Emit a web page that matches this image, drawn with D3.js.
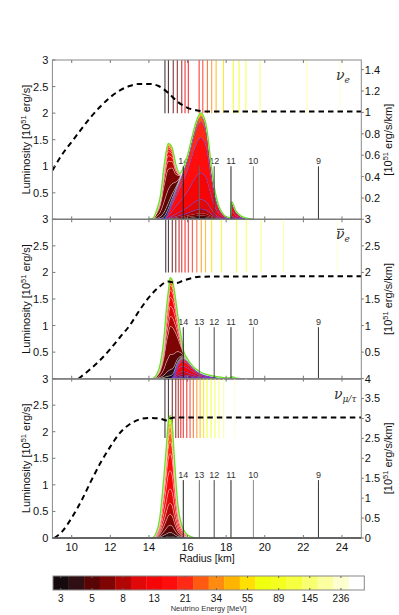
<!DOCTYPE html>
<html>
<head>
<meta charset="utf-8">
<script src="https://cdn.jsdelivr.net/npm/d3@7"></script>
<style>
body { margin: 0; background: #fff; }
text { font-family: "Liberation Sans", Arial, sans-serif; fill: #111; }
</style>
</head>
<body>
<svg id="chart" width="399" height="615"></svg>
<script>
// ---- colour map, one colour per energy bin ----
const binColors = ["#150b0f", "#2f0f14", "#5a0505", "#7f0505", "#b20505", "#e00808", "#f50505",
  "#ff0d0d", "#ff2a15", "#ff5a10", "#ff8c10", "#ffb400", "#ffe000", "#f0ff10", "#f4ff20",
  "#f6ff40", "#f8ff70", "#fbffa0", "#fdffd0", "#ffffff"];
const energyTicks = ["3", "5", "8", "13", "21", "34", "55", "89", "145", "236"];

// ---- numbered vertical markers (same radii in every panel) ----
const markerR = [15.78, 16.61, 17.38, 18.25, 19.41, 22.78];
const markerLabels = ["14", "13", "12", "11", "10", "9"];
const markerColors = ["#222", "#666", "#444", "#222", "#888", "#333"];
const markerTop = [1.0, 0.97, 1.09];

// ---- axis ticks ----
const xTicks = [10, 12, 14, 16, 18, 20, 22, 24];
const leftTicks = [[0.5, 1, 1.5, 2, 2.5, 3], [0.5, 1, 1.5, 2, 2.5, 3], [0, 0.5, 1, 1.5, 2, 2.5, 3]];
const rightTicks = [[0.2, 0.4, 0.6, 0.8, 1, 1.2, 1.4], [0.5, 1, 1.5, 2, 2.5, 3], [0, 0.5, 1, 1.5, 2, 2.5, 3, 3.5, 4]];
const rightMax = [1.49, 3, 4];

// ---- panel 1: nu_e ----
const dash1R = [9.0, 9.5, 10.0, 10.5, 11.0, 11.5, 12.0, 12.5, 13.0, 13.5, 14.0, 14.5, 15.0, 15.5, 16.0, 16.5, 17.0, 25.0];
const dash1L = [0.92, 1.22, 1.46, 1.70, 1.93, 2.13, 2.30, 2.43, 2.51, 2.55, 2.55, 2.51, 2.38, 2.21, 2.10, 2.05, 2.03, 2.03];
const grid1 = [14.0, 14.2, 14.4, 14.6, 14.8, 15.0, 15.2, 15.4, 15.6, 15.8, 16.0, 16.2, 16.4, 16.6, 16.7, 16.8, 17.0, 17.2, 17.4, 17.6, 17.8, 18.0, 18.22, 18.28, 18.5, 18.7, 19.0, 19.4];
const inner1 = [0, 0.01, 0.085, 0.225, 0.51, 0.635, 0.495, 0.235, 0.055, 0.01, 0, 0, 0, 0, 0, 0, 0, 0, 0, 0, 0, 0, 0, 0, 0, 0, 0, 0];
const outer1 = [0, 0, 0, 0, 0.01, 0.075, 0.175, 0.275, 0.375, 0.48, 0.595, 0.745, 0.885, 0.98, 0.995, 0.975, 0.845, 0.545, 0.285, 0.135, 0.06, 0.025, 0.015, 0.165, 0.08, 0.04, 0.015, 0];
const innerShare1 = [0.04, 0.08, 0.2, 0.3, 0.12, 0.08, 0.06, 0.04, 0.03, 0.02, 0.012, 0.008, 0.005, 0.003, 0.002, 0.001, 0.001, 0.0005, 0.0005, 0.0003];
const outerShare1 = [0.01, 0.012, 0.015, 0.02, 0.04, 0.09, 0.25, 0.33, 0.15, 0.045, 0.018, 0.01, 0.005, 0.003, 0.001, 0.0005, 0.0003, 0.0002, 0.0001, 0.0001];
const sphere1 = [14.83, 15.01, 15.26, 15.47, 15.70, 15.87, 16.04, 16.60, 16.79, 17.03, 17.25, 17.48, 17.86, 18.37, 18.67, 19.02, 19.76, 22.18, 23.9, 24.6];

// ---- panel 2: anti nu_e ----
const dash2R = [10.35, 11.0, 11.5, 12.0, 12.5, 13.0, 13.5, 14.0, 14.5, 15.0, 15.4, 15.8, 16.2, 16.6, 25.0];
const dash2L = [0, 0.19, 0.36, 0.56, 0.78, 1.0, 1.28, 1.53, 1.72, 1.83, 1.80, 1.85, 1.89, 1.92, 1.93];
const grid2 = [14.2, 14.4, 14.6, 14.8, 14.9, 15.0, 15.1, 15.2, 15.3, 15.4, 15.5, 15.6, 15.7, 15.8, 16.0, 16.2, 16.4, 16.6, 16.8, 17.0, 17.2, 17.5, 17.8, 18.1, 18.25, 18.3, 18.5, 18.8];
const inner2 = [0, 0.08, 0.3, 0.85, 1.3, 1.62, 1.9, 1.84, 1.62, 1.25, 0.88, 0.58, 0.32, 0.13, 0.03, 0.02, 0.02, 0.02, 0.015, 0.015, 0.01, 0.005, 0.005, 0.003, 0.003, 0.003, 0.002, 0];
const outer2 = [0, 0, 0, 0, 0, 0, 0, 0.02, 0.08, 0.2, 0.3, 0.36, 0.4, 0.39, 0.34, 0.25, 0.17, 0.12, 0.085, 0.065, 0.05, 0.035, 0.02, 0.01, 0.01, 0.035, 0.01, 0];
const innerShare2 = [0.03, 0.06, 0.15, 0.28, 0.1, 0.1, 0.09, 0.07, 0.05, 0.03, 0.02, 0.01, 0.006, 0.004, 0.002, 0.001, 0.001, 0.0008, 0.0005, 0.0003];
const outerShare2 = [0.01, 0.015, 0.03, 0.05, 0.08, 0.15, 0.25, 0.22, 0.1, 0.05, 0.025, 0.012, 0.006, 0.003, 0.001, 0.0005, 0.0003, 0.0002, 0.0001, 0.0001];
const sphere2 = [14.87, 15.01, 15.21, 15.39, 15.56, 15.70, 15.87, 16.04, 16.25, 16.48, 16.71, 16.93, 17.25, 17.76, 18.53, 19.04, 19.81, 20.97, 23.76, 24.8];

// ---- panel 3: nu_mu/tau ----
const dash3R = [9.1, 9.5, 10.0, 10.5, 11.0, 11.5, 12.0, 12.5, 13.0, 13.5, 14.0, 14.5, 14.9, 15.0, 15.1, 15.5, 25.0];
const dash3L = [0, 0.12, 0.38, 0.70, 1.07, 1.42, 1.72, 1.98, 2.14, 2.23, 2.26, 2.25, 2.21, 2.20, 2.25, 2.27, 2.27];
const grid3 = [14.2, 14.4, 14.5, 14.6, 14.7, 14.8, 14.9, 15.0, 15.1, 15.2, 15.3, 15.4, 15.5, 15.6, 15.7, 15.8, 16.0, 16.2, 16.4];
const inner3 = [0, 0.16, 0.33, 0.64, 1.13, 1.67, 2.27, 2.87, 3.07, 2.87, 2.13, 1.4, 0.83, 0.51, 0.32, 0.2, 0.08, 0.027, 0];
const innerShare3 = [0.015, 0.03, 0.06, 0.09, 0.09, 0.12, 0.15, 0.14, 0.1, 0.075, 0.05, 0.035, 0.022, 0.014, 0.008, 0.005, 0.003, 0.002, 0.001, 0.0005];
const sphere3 = [14.83, 15.01, 15.21, 15.39, 15.52, 15.65, 15.78, 15.96, 16.13, 16.30, 16.48, 16.65, 16.83, 17.01, 17.22, 17.42, 17.63, 17.87, 18.44, 19.03];
const sphereBottom = [2.0, 2.0, 1.88];

const flavours = [{ sub: "e", bar: false, x: 336 }, { sub: "e", bar: true, x: 336 }, { sub: "\u03bc/\u03c4", bar: false, x: 334 }];

// ---- layout ----
const plotL = 52.4, plotR = 361.3;
const panelTop = [60, 219.3, 378.6], panelH = 159.4;
const BLUE = "#3a3cff", EDGE_WHITE = "#ffffff", GREEN = "#6ee02c";

const svg = d3.select("#chart");
const x = d3.scaleLinear().domain([9, 25]).range([plotL, plotR]);

const panels = [
  { dashR: dash1R, dashL: dash1L, grid: grid1, sphere: sphere1,
    groups: [{ v: outer1, share: outerShare1, edge: BLUE }, { v: inner1, share: innerShare1, edge: EDGE_WHITE }] },
  { dashR: dash2R, dashL: dash2L, grid: grid2, sphere: sphere2,
    groups: [{ v: outer2, share: outerShare2, edge: BLUE }, { v: inner2, share: innerShare2, edge: EDGE_WHITE }] },
  { dashR: dash3R, dashL: dash3L, grid: grid3, sphere: sphere3,
    groups: [{ v: inner3, share: innerShare3, edge: EDGE_WHITE }] }
];

panels.forEach((p, i) => drawPanel(p, i));

function drawPanel(p, i) {
	const top = panelTop[i], bottom = top + panelH;
	const yL = d3.scaleLinear().domain([0, 3]).range([bottom, top]);
	const yR = d3.scaleLinear().domain([0, rightMax[i]]).range([bottom, top]);

	svg.append("clipPath").attr("id", "clip" + i)
		.append("rect").attr("x", plotL).attr("y", top).attr("width", plotR - plotL).attr("height", panelH);
	const body = svg.append("g").attr("clip-path", `url(#clip${i})`);

	// labels of the numbered markers sit under the spectra
	body.selectAll("text.mk").data(markerR).join("text")
		.attr("x", d => x(d)).attr("y", yL(markerTop[i]) - 2)
		.attr("text-anchor", "middle").style("font-size", "9px").style("fill", "#333")
		.text((d, k) => markerLabels[k]);

	// coloured radius lines per energy bin
	body.selectAll("line.sph").data(p.sphere).join("line")
		.attr("x1", d => x(d)).attr("x2", d => x(d))
		.attr("y1", yL(3)).attr("y2", yL(sphereBottom[i]))
		.attr("stroke", (d, k) => binColors[k]).attr("stroke-width", 1.1).attr("opacity", 0.8);

	// stacked spectra: every group split into 20 energy bins
	const keys = [];
	p.groups.forEach((gr, gi) => binColors.forEach((c, k) => keys.push({ gi, k })));
	const sums = p.groups.map(gr => d3.sum(gr.share));
	const rows = p.grid.map((r, j) => {
		const o = { r };
		keys.forEach((kk, n) => { o["s" + n] = p.groups[kk.gi].v[j] * p.groups[kk.gi].share[kk.k] / sums[kk.gi]; });
		return o;
	});
	const series = d3.stack().keys(keys.map((_, n) => "s" + n))(rows);

	const area = d3.area().curve(d3.curveMonotoneX)
		.x(d => x(d.data.r)).y0(d => yR(d[0])).y1(d => yR(d[1]));
	const edge = d3.line().curve(d3.curveMonotoneX)
		.x(d => x(d.data.r)).y(d => yR(d[1]));

	body.selectAll("path.layer").data(series).join("path")
		.attr("d", area).attr("fill", (s, n) => binColors[keys[n].k]);

	// only the thicker layers get a visible contour
	const edged = series.slice(0, -1).filter((s, n) => {
		const gr = p.groups[keys[n].gi];
		return gr.share[keys[n].k] / sums[keys[n].gi] > 0.025;
	});
	body.selectAll("path.edge").data(edged).join("path")
		.attr("d", edge).attr("fill", "none")
		.attr("stroke", s => p.groups[keys[s.index].gi].edge)
		.attr("stroke-width", 0.7)
		.attr("opacity", s => p.groups[keys[s.index].gi].edge === BLUE ? 0.75 : 0.55);

	body.append("path").datum(series[series.length - 1])
		.attr("d", edge).attr("fill", "none").attr("stroke", GREEN).attr("stroke-width", 1.4);

	// numbered marker lines on top of the spectra
	body.selectAll("line.mk").data(markerR).join("line")
		.attr("x1", d => x(d)).attr("x2", d => x(d))
		.attr("y1", yL(markerTop[i])).attr("y2", bottom)
		.attr("stroke", (d, k) => markerColors[k]).attr("stroke-width", 1);

	// integrated luminosity
	const dashLine = d3.line().curve(d3.curveMonotoneX).x(d => x(d[0])).y(d => yL(d[1]));
	body.append("path").datum(d3.zip(p.dashR, p.dashL))
		.attr("d", dashLine).attr("fill", "none").attr("stroke", "#000")
		.attr("stroke-width", 2).attr("stroke-dasharray", "5.5,4");

	// frame
	const frame = svg.append("g");
	frame.append("rect").attr("x", plotL).attr("y", top).attr("width", plotR - plotL).attr("height", panelH)
		.attr("fill", "none").attr("stroke", "#8a8a8a").attr("stroke-width", 1);
	frame.append("line").attr("x1", plotL).attr("x2", plotR).attr("y1", bottom).attr("y2", bottom)
		.attr("stroke", "#444").attr("stroke-width", 1.4);

	// x ticks top and bottom (inward)
	xTicks.forEach(t => {
		frame.append("line").attr("x1", x(t)).attr("x2", x(t)).attr("y1", top).attr("y2", top + 3).attr("stroke", "#777");
		frame.append("line").attr("x1", x(t)).attr("x2", x(t)).attr("y1", bottom).attr("y2", bottom - 3).attr("stroke", "#777");
	});

	// left axis
	leftTicks[i].forEach(t => {
		frame.append("line").attr("x1", plotL).attr("x2", plotL + 3).attr("y1", yL(t)).attr("y2", yL(t)).attr("stroke", "#777");
		frame.append("text").attr("x", plotL - 4).attr("y", yL(t)).attr("dy", "0.36em")
			.attr("text-anchor", "end").style("font-size", "11px").text(d3.format("~g")(t));
	});
	// right axis
	rightTicks[i].forEach(t => {
		frame.append("line").attr("x1", plotR).attr("x2", plotR + 2.5).attr("y1", yR(t)).attr("y2", yR(t)).attr("stroke", "#777");
		frame.append("text").attr("x", plotR + 3.5).attr("y", yR(t)).attr("dy", "0.36em")
			.attr("text-anchor", "start").style("font-size", "11px").text(d3.format("~g")(t));
	});

	// axis titles
	const mid = (top + bottom) / 2;
	const lt = frame.append("text").attr("transform", `translate(30,${mid}) rotate(-90)`)
		.attr("text-anchor", "middle").style("font-size", "11px");
	lt.append("tspan").text("Luminosity  [10");
	lt.append("tspan").attr("dy", -4).style("font-size", "7.5px").text("51");
	lt.append("tspan").attr("dy", 4).text(" erg/s]");

	const rt = frame.append("text").attr("transform", `translate(392,${mid}) rotate(-90)`)
		.attr("text-anchor", "middle").style("font-size", "11px");
	rt.append("tspan").text("[10");
	rt.append("tspan").attr("dy", -4).style("font-size", "7.5px").text("51");
	rt.append("tspan").attr("dy", 4).text(" erg/s/km]");

	// flavour symbol
	const f = flavours[i];
	const sym = frame.append("text").attr("x", f.x).attr("y", top + 20)
		.style("font-family", "'DejaVu Serif', 'Liberation Serif', serif").style("font-style", "italic")
		.style("font-size", "14px").style("fill", "#333");
	sym.append("tspan").text("\u03bd");
	sym.append("tspan").attr("dy", 3).style("font-size", "9px").text(f.sub);
	if (f.bar) {
		frame.append("line").attr("x1", f.x + 1).attr("x2", f.x + 8).attr("y1", top + 10).attr("y2", top + 10)
			.attr("stroke", "#333").attr("stroke-width", 1);
	}
}

// x tick labels + title under the last panel
const lastBottom = panelTop[2] + panelH;
svg.append("g").selectAll("text").data(xTicks).join("text")
	.attr("x", d => x(d)).attr("y", lastBottom + 13)
	.attr("text-anchor", "middle").style("font-size", "11px").text(d => d);
svg.append("text").attr("x", (plotL + plotR) / 2).attr("y", lastBottom + 23.5)
	.attr("text-anchor", "middle").style("font-size", "10.5px").text("Radius [km]");

// ---- colour bar ----
const cbX = d3.scaleBand().domain(d3.range(binColors.length)).range([53, 364.3]);
const cbTop = 576, cbH = 14;
const cb = svg.append("g");
cb.selectAll("rect").data(binColors).join("rect")
	.attr("x", (d, k) => cbX(k)).attr("y", cbTop).attr("width", cbX.bandwidth() + 0.3).attr("height", cbH)
	.attr("fill", d => d);
cb.append("rect").attr("x", 53).attr("y", cbTop).attr("width", 364.3 - 53).attr("height", cbH)
	.attr("fill", "none").attr("stroke", "#888").attr("stroke-width", 1);
energyTicks.forEach((t, n) => {
	const cx = cbX(n * 2) + cbX.bandwidth() / 2;
	cb.append("line").attr("x1", cx).attr("x2", cx).attr("y1", cbTop).attr("y2", cbTop + 2).attr("stroke", "#666");
	cb.append("line").attr("x1", cx).attr("x2", cx).attr("y1", cbTop + cbH).attr("y2", cbTop + cbH - 2).attr("stroke", "#666");
	cb.append("text").attr("x", cx).attr("y", cbTop + cbH + 12)
		.attr("text-anchor", "middle").style("font-size", "10px").text(t);
});
cb.append("text").attr("x", (53 + 364.3) / 2).attr("y", 611)
	.attr("text-anchor", "middle").style("font-size", "7.5px").style("fill", "#333").text("Neutrino Energy [MeV]");
</script>
</body>
</html>
